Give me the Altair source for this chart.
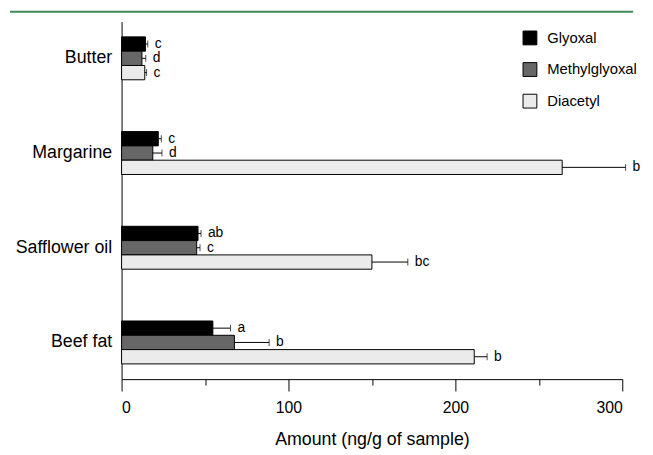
import altair as alt
import pandas as pd

FONT = "Liberation Sans"

foods = ["Butter", "Margarine", "Safflower oil", "Beef fat"]
compounds = ["Glyoxal", "Methylglyoxal", "Diacetyl"]

glyoxal = [14.3, 22.0, 45.8, 54.7]
glyoxal_sd = [1.4, 1.8, 1.8, 10.6]
methylglyoxal = [12.2, 18.7, 45.0, 67.6]
methylglyoxal_sd = [2.3, 5.5, 2.0, 20.8]
diacetyl = [13.9, 264.0, 150.0, 211.3]
diacetyl_sd = [1.1, 38.0, 21.5, 7.7]

glyoxal_sig = ["c", "c", "ab", "a"]
methylglyoxal_sig = ["d", "d", "c", "b"]
diacetyl_sig = ["c", "b", "bc", "b"]

x_ticks = [0, 50, 100, 150, 200, 250, 300]
colors = ["#000000", "#676767", "#ebebeb"]

rows = []
for comp, vals, sds, sigs in zip(
    compounds,
    [glyoxal, methylglyoxal, diacetyl],
    [glyoxal_sd, methylglyoxal_sd, diacetyl_sd],
    [glyoxal_sig, methylglyoxal_sig, diacetyl_sig],
):
    for f, v, s, g in zip(foods, vals, sds, sigs):
        rows.append(dict(food=f, compound=comp, amount=v, upper=v + s, sig=g))
df = pd.DataFrame(rows)

TITLE = "Amount (ng/g of sample)"
x_axis = alt.Axis(
    title=TITLE,
    values=x_ticks,
    labelExpr="datum.value % 100 === 0 ? datum.label : ''",
    tickSize={"condition": {"test": "datum.value % 100 === 0", "value": 12}, "value": 6},
    tickColor="black",
    domainColor="black",
    labelColor="black",
    labelFont=FONT,
    labelFontSize=16,
    labelPadding=9,
    titleFont=FONT,
    titleFontSize=18,
    titleFontWeight="normal",
    titleColor="black",
    titlePadding=15,
    grid=False,
)
x_scale = alt.Scale(domain=[0, 300], nice=False, zero=True)

y_enc = alt.Y(
    "food:N",
    sort=foods,
    scale=alt.Scale(domain=foods, paddingInner=0.5, paddingOuter=0.1375),
    axis=alt.Axis(
        title=None,
        ticks=False,
        labelFont=FONT,
        labelFontSize=18,
        labelColor="black",
        labelPadding=10,
        domainColor="black",
    ),
)
yoff = alt.YOffset(
    "compound:N",
    sort=compounds,
    scale=alt.Scale(domain=compounds, paddingInner=0, paddingOuter=0.155),
)

base = alt.Chart(df)

bars = base.mark_bar(stroke="black", strokeWidth=1).encode(
    x=alt.X("amount:Q", scale=x_scale, axis=x_axis),
    y=y_enc,
    yOffset=yoff,
    fill=alt.Fill(
        "compound:N",
        sort=compounds,
        scale=alt.Scale(domain=compounds, range=colors),
        legend=alt.Legend(
            title=None,
            orient="none",
            legendX=406,
            legendY=9,
            symbolType="square",
            symbolSize=196,
            symbolStrokeColor="black",
            symbolStrokeWidth=1,
            labelFont=FONT,
            labelFontSize=15,
            labelColor="black",
            labelOffset=10,
            rowPadding=13,
        ),
    ),
)

err = base.mark_rule(color="black", strokeWidth=1).encode(
    x=alt.X("amount:Q", scale=x_scale, axis=x_axis),
    x2="upper:Q",
    y=y_enc,
    yOffset=yoff,
)

caps = base.mark_tick(color="black", thickness=1, size=7).encode(
    x=alt.X("upper:Q", scale=x_scale, axis=x_axis),
    y=y_enc,
    yOffset=yoff,
)

labels = base.mark_text(
    align="left", baseline="middle", dx=7, font=FONT, fontSize=14, color="black"
).encode(
    x=alt.X("upper:Q", scale=x_scale, axis=x_axis),
    y=y_enc,
    yOffset=yoff,
    text="sig:N",
)

green = alt.Chart(alt.Data(values=[{}])).mark_rule(
    color="#3f8a57", strokeWidth=2
).encode(x=alt.value(-113), x2=alt.value(518), y=alt.value(-10))

chart = (
    alt.layer(bars, err, caps, labels, green)
    .properties(
        width=507,
        height=362,
        padding={"left": 115, "top": 11, "right": 23, "bottom": 74},
        autosize=alt.AutoSizeParams(type="none"),
    )
    .configure_view(stroke=None)
)

chart.save("out.html", embed_options={"renderer": "svg", "actions": False})
